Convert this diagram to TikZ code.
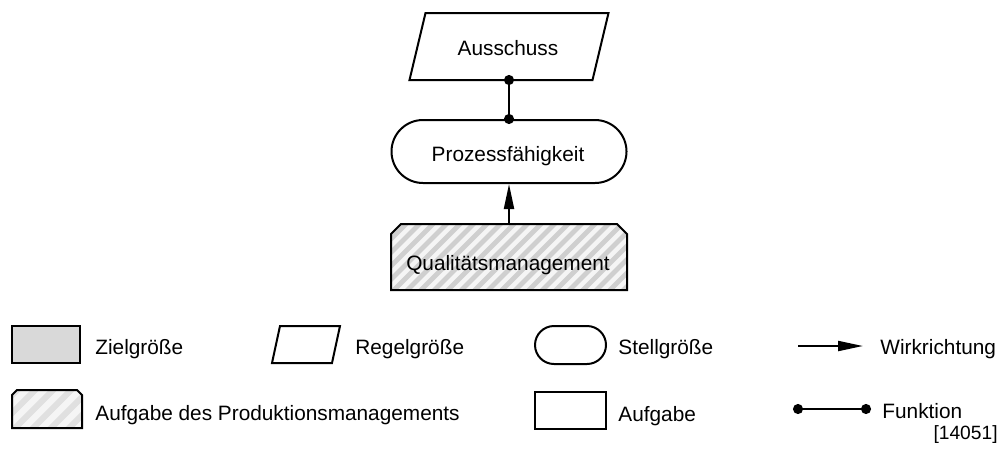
\documentclass[tikz,border=0pt]{standalone}
\usepackage{fontspec}
\setmainfont{Liberation Sans}
\usetikzlibrary{arrows.meta}

\tikzset{
  outline/.style={draw=black, line width=1pt},
  txt/.style={font=\fontsize{10.4}{12}\selectfont, inner sep=0pt, anchor=base},
  legtext/.style={txt, anchor=base west},
  hatchbg/.style={fill=black!4},
  mainstripe/.style={draw=black!19, line width=2.4pt},
  legstripe/.style={draw=black!12, line width=3pt},
  wirk/.style={line width=1pt, -{Triangle[length=12.5pt,width=5pt]}},
  funk/.style={line width=1pt, {Circle[length=5pt]}-{Circle[length=5pt]},
    shorten <=-2.5pt, shorten >=-2.5pt},
  stadium/.style={outline, fill=white, inner sep=0pt},
  plainbox/.style={outline, inner sep=0pt},
  shapeonly/.style={inner sep=0pt, outer sep=0pt},
}

% hatched box with chamfered upper corners:
% x1, y1, x2, y2, chamfer, stripe period, stripe style
\newcommand\hatchedbox[7]{%
  \begin{scope}
    \clip (#1,#4) -- (#1,#2+#5) -- (#1+#5,#2) -- (#3-#5,#2) -- (#3,#2+#5) -- (#3,#4) -- cycle;
    \fill[hatchbg] (#1,#2) rectangle (#3,#4);
    \foreach \k in {0,...,32}
      \draw[#7] ({#1-110+\k*#6},#4+5) -- ++(120,-120);
  \end{scope}
  \draw[outline, line join=miter]
    (#1,#4) -- (#1,#2+#5) -- (#1+#5,#2) -- (#3-#5,#2) -- (#3,#2+#5) -- (#3,#4) -- cycle;
}

\begin{document}
\begin{tikzpicture}[x=0.5pt, y=-0.5pt]
  \useasboundingbox (0,0) rectangle (1004,450);

  % --- chain: Qualitaetsmanagement -> Prozessfaehigkeit -- Ausschuss ---
  \draw[outline] (409.5,80) -- (592.5,80) -- (608.5,13) -- (425.5,13) -- cycle;
  \node[shapeonly, minimum width=80pt, minimum height=33.5pt] (aus) at (509,46.5) {};
  \node[txt] (austxt) at (508,55) {Ausschuss};

  \node[stadium, rounded corners=15.75pt, minimum width=117.5pt, minimum height=31.5pt]
    (proz) at (509,151.5) {};
  \node[txt] (proztxt) at (508,161.5) {Prozessfähigkeit};

  \hatchedbox{391}{224}{627}{290}{10}{13.5}{mainstripe}
  \node[shapeonly, minimum width=118pt, minimum height=33pt] (qm) at (509,257) {};
  \node[txt] (qmtxt) at (508,270) {Qualitätsmanagement};

  \draw[funk] (aus.south) -- (proz.north);
  \draw[wirk] (qm.north) -- (proz.south);

  % --- legend, first row ---
  \node[plainbox, fill=black!15, minimum width=34pt, minimum height=18.5pt] (zielbox) at (46,344.5) {};
  \node[legtext] (zieltxt) at (95,354) {Zielgröße};

  \draw[outline] (272,363) -- (332,363) -- (340,326) -- (280,326) -- cycle;
  \node[legtext] (regeltxt) at (355,354) {Regelgröße};

  \node[stadium, rounded corners=9.5pt, minimum width=35.5pt, minimum height=19pt]
    (stellbox) at (570.5,345) {};
  \node[legtext] (stelltxt) at (618,354) {Stellgröße};

  \coordinate (w1) at (798,346);
  \coordinate (w2) at (863,346);
  \draw[wirk] (w1) -- (w2);
  \node[legtext] (wirktxt) at (880,354) {Wirkrichtung};

  % --- legend, second row ---
  \hatchedbox{12}{390}{82}{428}{5}{18}{legstripe}
  \node[legtext] (pmtxt) at (95,420) {Aufgabe des Produktionsmanagements};

  \node[plainbox, minimum width=35.5pt, minimum height=18.5pt] (aufbox) at (570.5,410.5) {};
  \node[legtext] (auftxt) at (618,421) {Aufgabe};

  \coordinate (f1) at (798,409);
  \coordinate (f2) at (866,409);
  \draw[funk] (f1) -- (f2);
  \node[legtext] (funktxt) at (882,418) {Funktion};

  \node[txt, anchor=base east, font=\fontsize{9.6}{11}\selectfont] (ref) at (998,439) {[14051]};
\end{tikzpicture}
\end{document}
